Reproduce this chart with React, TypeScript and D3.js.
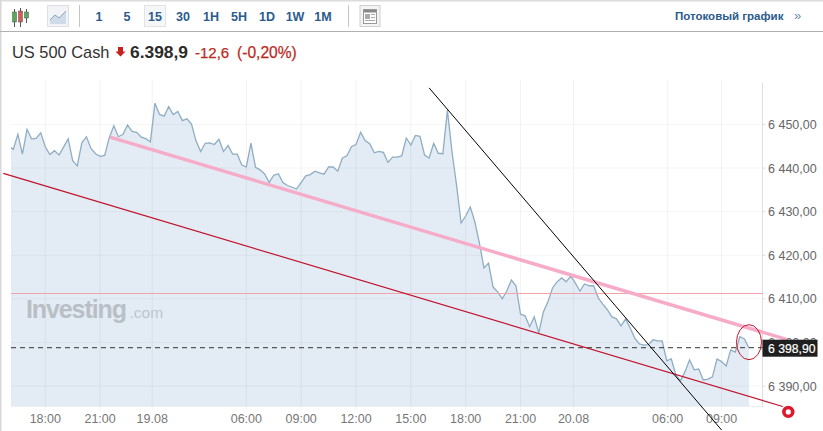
import React from "react";
import * as d3 from "d3";

const prices = [
  6444.69,6444.3,6447.75,6443.2,6448.9,6446.7,6446.8,6448.1,6444.9,6443.1,6444.0,6443.0,6444.8,6446.7,6441.7,6440.5,
  6445.8,6447.2,6444.5,6443.3,6442.7,6442.9,6447.0,6449.7,6447.2,6447.75,6449.9,6448.4,6448.2,6447.1,6446.75,6446.0,
  6454.9,6452.3,6451.9,6454.1,6452.3,6453.0,6450.9,6451.3,6450.1,6446.2,6443.8,6445.7,6445.8,6445.4,6446.6,6443.8,
  6445.2,6443.2,6443.2,6440.7,6440.3,6445.7,6440.2,6439.6,6438.65,6436.7,6438.35,6438.7,6436.7,6436.0,6435.6,6435.2,
  6436.7,6438.2,6438.5,6439.3,6438.9,6438.6,6440.25,6440.25,6439.3,6442.25,6442.8,6444.9,6445.4,6448.2,6446.3,6445.6,
  6443.5,6443.85,6443.6,6441.3,6442.5,6442.5,6442.8,6446.9,6445.3,6447.5,6447.3,6443.0,6442.3,6445.7,6443.4,6443.3,
  6453.3,6443.8,6436.1,6427.4,6429.0,6431.1,6427.7,6422.8,6417.1,6418.2,6412.7,6411.6,6410.0,6411.8,6414.3,6413.0,
  6406.5,6406.1,6403.6,6405.85,6402.2,6407.0,6409.3,6412.5,6413.9,6414.8,6413.9,6415.25,6413.6,6411.8,6413.4,6413.0,
  6413.0,6410.2,6408.8,6407.5,6405.85,6405.4,6403.8,6405.4,6403.3,6401.0,6399.65,6399.4,6399.5,6400.6,6400.35,6400.35,
  6395.75,6396.2,6392.55,6391.2,6393.3,6396.0,6393.7,6393.9,6391.4,6391.6,6392.1,6396.2,6395.6,6394.6,6398.3,6397.8,
  6401.3,6400.8,6398.7,
];
const yTicks = [6390, 6400, 6410, 6420, 6430, 6440, 6450];
const xTickLabels = ["18:00","21:00","19.08","06:00","09:00","12:00","15:00","18:00","21:00","20.08","06:00","09:00"];
const xTickIndex = [8, 20, 31.4, 52, 64, 76, 88, 100, 112, 123.6, 144.2, 156];
const lastPrice = 6398.9;
const hLinePrice = 6411.22;
const blackLine: [number, number][] = [[92, 6458.4], [156, 6379.9]];
const redLine: [number, number][] = [[-3.35, 6438.8], [169.4, 6385.3]];
const pinkLine: [number, number][] = [[22.16, 6447.1], [170.2, 6400.7]];
const ellipsePoint: [number, number] = [162, 6400.05];
const ringPoint: [number, number] = [170.6, 6384.06];
const periods = ["1", "5", "15", "30", "1H", "5H", "1D", "1W", "1M"];

const FONT = "'Liberation Sans', Arial, sans-serif";
const BLUE = "#2b5b8c";
const RED = "#c0142c";

const x = d3.scaleLinear().domain([0, 1, 162]).range([11, 13.3, 749]);
const y = d3.scaleLinear().domain([6390, 6450]).range([386, 124.5]);
const PLOT_BOTTOM = 406.5;
const PLOT_TOP = 80;
const AXIS_X = 762.5;

const loc = d3.formatLocale({ decimal: ",", thousands: " ", grouping: [3], currency: ["", ""] });
const fmt = loc.format(",.2f");

const lineGen = d3.line<number>().x((_, i) => x(i)).y((d) => y(d));
const areaGen = d3.area<number>().x((_, i) => x(i)).y0(PLOT_BOTTOM).y1((d) => y(d));
const seg = d3.line<[number, number]>().x((d) => x(d[0])).y((d) => y(d[1]));

export default function App() {
  return (
    <svg width={823} height={431} style={{ position: "fixed", left: 0, top: 0, background: "#fff" }} fontFamily={FONT}>
      <rect x={0} y={0} width={823} height={1.5} fill="#dcdcdc" />
      <rect x={0} y={0} width={1.5} height={431} fill="#d8d8d8" />
      <rect x={0} y={31} width={823} height={1} fill="#b0b0b0" />

      {/* toolbar */}
      <g>
        {[[15, "#5aa85a", 12, 14], [21, "#d85a50", 11, 15], [27, "#5aa85a", 12, 10]].map(([cx, c, top, h], i) => (
          <g key={i}>
            <line x1={+cx - 0.5} x2={+cx - 0.5} y1={+top - 3} y2={+top + +h + 1} stroke="#555" strokeWidth={1} />
            <rect x={+cx - 2.5} y={+top} width={4} height={+h - 4} fill={c as string} stroke="#555" strokeWidth={0.5} />
          </g>
        ))}
        <rect x={47.5} y={5.5} width={21} height={21} fill="#f1f3f6" stroke="#dcdfe3" />
        <path d="M50,20 L55,15 L59,18 L66,11 L66,24 L50,24 Z" fill="#cfdbe9" />
        <path d="M50,20 L55,15 L59,18 L66,11" fill="none" stroke="#8ba4be" />
        <rect x={79} y={5} width={1} height={22} fill="#c4c4c4" />
        <rect x={144.5} y={5.5} width={21} height={21} fill="#f5f6f8" stroke="#dfe2e6" />
        {periods.map((p, i) => (
          <text key={p} x={99 + i * 28} y={20.5} textAnchor="middle" fontSize={12.5} fontWeight={700} fill={BLUE}>{p}</text>
        ))}
        <rect x={348} y={5} width={1} height={22} fill="#c4c4c4" />
        <rect x={360} y={5.5} width={20} height={21} fill="#f4f4f4" stroke="#cfcfcf" />
        <rect x={363.5} y={9.5} width={13} height={14} fill="#fff" stroke="#999" />
        <rect x={364} y={10} width={12} height={2.5} fill="#888" />
        <rect x={365} y={14} width={5} height={5} fill="#aaa" />
        <rect x={371} y={14} width={4} height={1} fill="#aaa" />
        <rect x={371} y={17} width={4} height={1} fill="#aaa" />
        <rect x={365} y={20} width={10} height={1} fill="#aaa" />
        <text x={675} y={20} fontSize={11.5} fontWeight={700} fill={BLUE}>Потоковый график</text>
        <text x={794} y={20} fontSize={13} fill="#6d8bab">»</text>
      </g>

      {/* title */}
      <text x={12} y={58} fontSize={16.4} fill="#333">US 500 Cash</text>
      <path d="M118,47 h5 v4.5 h2.5 l-5,5 l-5,-5 h2.5 Z" fill="#c8201d" />
      <text x={130} y={58} fontSize={17.4} fontWeight={700} fill="#2b2b2b">6.398,9</text>
      <text x={195} y={58} fontSize={15} fill="#bb2a1e" stroke="#bb2a1e" strokeWidth={0.25}>-12,6</text>
      <text x={237} y={58} fontSize={15.6} fill="#bb2a1e" stroke="#bb2a1e" strokeWidth={0.25}>(-0,20%)</text>

      {/* area */}
      <path d={areaGen(prices) ?? ""} fill="#e3ecf5" />

      {/* grid */}
      {yTicks.map((t) => (
        <line key={t} x1={11} x2={AXIS_X} y1={y(t)} y2={y(t)} stroke="#000" strokeOpacity={0.04} />
      ))}
      {xTickIndex.map((t, i) => (
        <line key={i} x1={x(t)} x2={x(t)} y1={PLOT_TOP} y2={PLOT_BOTTOM + 4} stroke="#000" strokeOpacity={0.05} />
      ))}

      {/* watermark */}
      <text x={26} y={318} fontSize={25} fontWeight={700} fill="#b9bfc6" letterSpacing={-1.1}>Investing</text>
      <text x={129.5} y={318} fontSize={15.5} fill="#bcc5ce">.com</text>

      <path d={lineGen(prices) ?? ""} fill="none" stroke="#8fadc2" strokeWidth={1.3} />

      {/* axes */}
      <line x1={11} x2={AXIS_X} y1={PLOT_BOTTOM} y2={PLOT_BOTTOM} stroke="#eceef0" />
      <line x1={AXIS_X} x2={AXIS_X} y1={83} y2={PLOT_BOTTOM} stroke="#dedede" />
      {yTicks.map((t) => (
        <g key={t}>
          <line x1={AXIS_X} x2={AXIS_X + 3} y1={y(t)} y2={y(t)} stroke="#ddd" />
          <text x={768} y={y(t) + 4.5} fontSize={12.5} fill="#666">{fmt(t)}</text>
        </g>
      ))}
      {xTickIndex.map((t, i) => (
        <text key={i} x={x(t)} y={423} textAnchor="middle" fontSize={12.5} fill="#777">{xTickLabels[i]}</text>
      ))}

      {/* drawn lines */}
      <line x1={11} x2={AXIS_X} y1={y(hLinePrice)} y2={y(hLinePrice)} stroke="#f2a4ac" strokeWidth={1} shapeRendering="crispEdges" />
      <line x1={11} x2={AXIS_X} y1={y(lastPrice) + 0.5} y2={y(lastPrice) + 0.5} stroke="#333" strokeDasharray="5 4" />
      <path d={seg(redLine) ?? ""} stroke={RED} strokeWidth={1.2} fill="none" />
      <path d={seg(pinkLine) ?? ""} stroke="#f6abc8" strokeWidth={3.4} fill="none" />
      <path d={seg(blackLine) ?? ""} stroke="#000" strokeWidth={1} fill="none" />
      <ellipse cx={x(ellipsePoint[0])} cy={y(ellipsePoint[1])} rx={12.5} ry={17.5} fill="none" stroke={RED} strokeWidth={1} />
      <circle cx={x(ringPoint[0])} cy={y(ringPoint[1])} r={4.4} fill="#fff" stroke="#dc1a2e" strokeWidth={3.6} />

      {/* last price */}
      <rect x={AXIS_X} y={y(lastPrice) - 7.5} width={55} height={17} fill="#1f1f1f" />
      <text x={768} y={y(lastPrice) + 5.5} fontSize={12.2} fill="#fff" stroke="#fff" strokeWidth={0.2}>{fmt(lastPrice)}</text>
    </svg>
  );
}
